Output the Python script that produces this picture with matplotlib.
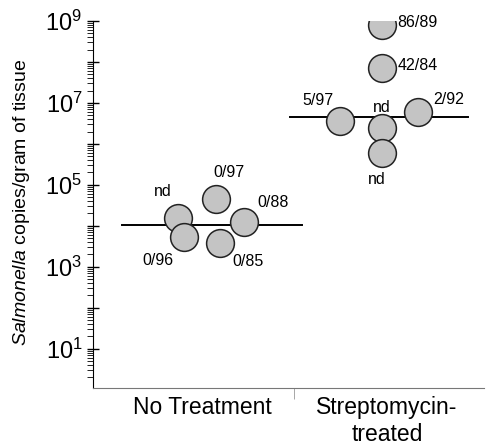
import numpy as np
import matplotlib.pyplot as plt
from matplotlib.ticker import FixedLocator, LogLocator, NullFormatter

plt.rcParams['font.family'] = ['Liberation Sans', 'DejaVu Sans']
plt.rcParams['mathtext.fontset'] = 'custom'
plt.rcParams['mathtext.rm'] = 'Liberation Sans'
plt.rcParams['mathtext.it'] = 'Liberation Sans:italic'

groups = ['No Treatment', 'Streptomycin-\ntreated']
group_pos = [1, 2]

# No Treatment mice: x jitter, copies/gram, label
nt_dx = [-0.13, -0.097, 0.076, 0.097, 0.227]
nt_val = [1.57e4, 5.4e3, 4.6e4, 3.8e3, 1.26e4]
nt_lab = ['nd', '0/96', '0/97', '0/85', '0/88']
nt_mean = 1.05e4
nt_line = (-0.43, 0.54)

# Streptomycin-treated mice
st_dx = [-0.027, -0.027, -0.254, -0.027, -0.027, 0.168]
st_val = [8.0e8, 7.1e7, 3.6e6, 2.45e6, 6.0e5, 6.0e6]
st_lab = ['86/89', '42/84', '5/97', 'nd', 'nd', '2/92']
st_mean = 4.6e6
st_line = (-0.524, 0.438)

# label offsets in points
nt_off = [(-11, 19, 'center'), (-19, -17, 'center'), (9, 19, 'center'),
          (20, -13, 'center'), (21, 14, 'center')]
st_off = [(11, 2, 'left'), (11, 2, 'left'), (-16, 15, 'center'),
          (0, 15, 'center'), (-4, -19, 'center'), (11, 9, 'left')]

fig = plt.figure(figsize=(4.86, 4.45), dpi=100)
ax = fig.add_axes([0.191, 0.128, 0.805, 0.825])

for pos, dx, val, lab, off, mean, line in [
        (group_pos[0], nt_dx, nt_val, nt_lab, nt_off, nt_mean, nt_line),
        (group_pos[1], st_dx, st_val, st_lab, st_off, st_mean, st_line)]:
    xs = pos + np.array(dx)
    ax.plot([pos + line[0], pos + line[1]], [mean, mean], color='black', lw=1.4, zorder=1)
    ax.plot(xs, val, 'o', ms=20, mfc='#c4c4c4', mec='#222222', mew=1.1, zorder=2)
    for x, v, t, (ox, oy, ha) in zip(xs, val, lab, off):
        ax.annotate(t, (x, v), xytext=(ox, oy), textcoords='offset points',
                    ha=ha, va='center', fontsize=11.5)

ax.set_yscale('log')
ax.set_ylim(1.1, 1e9)
ax.set_xlim(0.411, 2.524)

ax.yaxis.set_major_locator(FixedLocator([10.0 ** k for k in range(1, 10)]))
ax.yaxis.set_minor_locator(LogLocator(base=10, subs=np.arange(2, 10), numticks=20))
ax.yaxis.set_minor_formatter(NullFormatter())
ax.set_yticklabels([f'$\\mathregular{{10^{{{k}}}}}$' if k % 2 == 1 else '' for k in range(1, 10)],
                   fontsize=17)
ax.tick_params(axis='y', which='major', direction='inout', length=9, width=1, pad=3)
ax.tick_params(axis='y', which='minor', direction='out', length=4, width=0.6)

ax.set_xticks(group_pos)
ax.set_xticklabels(groups, fontsize=16.5)
ax.tick_params(axis='x', which='major', length=0, pad=6)
ax.set_xticks([1.5], minor=True)
ax.tick_params(axis='x', which='minor', direction='out', length=8, color='#999999')

ax.spines['top'].set_visible(False)
ax.spines['right'].set_visible(False)
ax.spines['bottom'].set_color('#777777')

ax.set_ylabel('$\\it{Salmonella}$ copies/gram of tissue', fontsize=14)
ax.yaxis.set_label_coords(-0.155, 0.505)

fig.savefig('out.png', dpi=100)
